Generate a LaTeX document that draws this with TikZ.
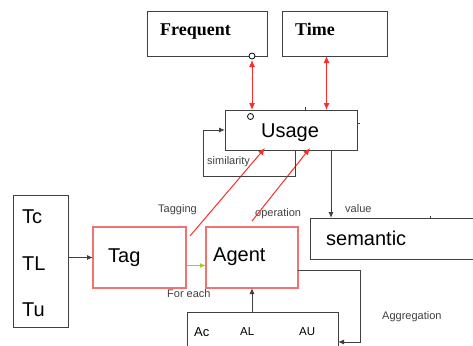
\documentclass[tikz,border=0pt]{standalone}
\usepackage{fontspec}
\setmainfont{Liberation Sans}
\newfontfamily\serifbold{Liberation Serif}
\usetikzlibrary{arrows.meta,calc}
\definecolor{boxgray}{HTML}{404040}
\definecolor{redline}{HTML}{FF2A2A}
\definecolor{pinkline}{HTML}{F07272}
\definecolor{greenline}{HTML}{9ACD32}
\begin{document}
\begin{tikzpicture}[x=1pt,y=-1pt,
  box/.style={draw=boxgray, line width=1pt, inner sep=0pt, outer sep=0pt, fill=white},
  pinkbox/.style={draw=pinkline, line width=1.1pt, inner sep=0pt, outer sep=0pt},
  big/.style={inner sep=0pt, font=\fontsize{20}{22}\selectfont, text=black},
  small/.style={inner sep=0pt, font=\fontsize{11}{12}\selectfont, text=boxgray},
  titletext/.style={inner sep=0pt, font=\serifbold\bfseries\fontsize{18}{20}\selectfont},
  gline/.style={draw=boxgray, line width=1pt, -{Latex[length=6pt,width=5pt]}},
  rline/.style={draw=redline, line width=1pt},
  rtip/.style={-{Latex[length=7pt,width=6pt]}},
  dot/.style={draw=black, fill=white, line width=0.8pt}
]
\useasboundingbox (0,0) rectangle (473,345);

% boxes
\node[box, minimum width=120pt, minimum height=44pt] (freq) at (207,34) {};
\node[box, minimum width=105pt, minimum height=44pt] (time) at (334.5,34) {};
\node[box, minimum width=132pt, minimum height=40pt] (usage) at (291,130) {};
\node[box, minimum width=170pt, minimum height=41pt] (sem) at (395,238.5) {};
\node[box, minimum width=55pt, minimum height=132pt] (tbox) at (40.5,261) {};
\node[pinkbox, minimum width=93pt, minimum height=61pt] (tag) at (139.5,257.5) {};
\node[pinkbox, minimum width=92pt, minimum height=61pt] (agent) at (252,257.5) {};
\node[box, minimum width=151pt, minimum height=48pt] (abox) at (262.5,336) {};

% texts in boxes
\node[titletext, anchor=base west] (freqT) at (160,36) {Frequent};
\node[titletext, anchor=base west] (timeT) at (295,36) {Time};
\node[big, anchor=base] (usageT) at (290,137) {Usage};
\node[big, anchor=base west] (semT) at (326,245) {semantic};
\node[big, anchor=base west] (agentT) at (213,261) {Agent};
\node[big, anchor=base west] (tagT) at (108,262) {Tag};
\node[big, anchor=base west] (tcT) at (22,223) {Tc};
\node[big, anchor=base west] (tlT) at (22,270) {TL};
\node[big, anchor=base west] (tuT) at (22,316) {Tu};
\node[inner sep=0pt, font=\fontsize{13}{14}\selectfont, anchor=base west] (acT) at (194,336) {Ac};
\node[inner sep=0pt, font=\fontsize{11.5}{13}\selectfont, anchor=base west] (alT) at (240,335) {AL};
\node[inner sep=0pt, font=\fontsize{11.5}{13}\selectfont, anchor=base west] (auT) at (299,335) {AU};

% small labels
\node[small, anchor=base west] (simL) at (207,164) {similarity};
\node[small, anchor=base west] (tagL) at (158,212) {Tagging};
\node[small, anchor=base west] (opL) at (255,216) {operation};
\node[small, anchor=base west] (valL) at (345,212) {value};
\node[small, anchor=base west] (forL) at (167,297) {For each};
\node[small, anchor=base west] (aggL) at (382,319) {Aggregation};

% helper x positions
\coordinate (xf) at (252,0);
\coordinate (xt) at (326.5,0);
\coordinate (xv) at (331,0);

% red double arrows
\draw[rline, {Latex[length=7pt,width=6pt]}-{Latex[length=7pt,width=6pt]}]
  ($(freq.south -| xf)+(0,4)$) -- (usage.north -| xf);
\draw[dot] (freq.south -| xf) circle (3pt);
\draw[dot] ($(usage.north -| xf)+(-1.5,6.5)$) circle (3pt);
\draw[rline, {Latex[length=7pt,width=6pt]}-{Latex[length=7pt,width=6pt]}]
  (time.south -| xt) -- (usage.north -| xt);

% red lines to usage
\draw[rline, rtip] ($(tag.north east)+(4,9)$) -- ($(usage.south west)+(40,-2)$);
\draw[rline, rtip] ($(agent.north)+(0,-6)$) -- ($(usage.south west)+(85,-2)$);

% similarity loop
\draw[gline] ($(usage.south west)+(70,0)$) |- (203,176) |- (usage.west);

% usage to semantic
\draw[gline] (usage.south -| xv) -- (sem.north -| xv);

% T box to Tag
\draw[gline] (tag.west -| tbox.east) -- (tag.west);

% Tag to Agent (green)
\draw[draw=greenline, line width=1.2pt, -{Latex[length=6pt,width=5pt]}]
  ($(tag.east)+(0,8)$) -- ($(agent.west)+(0,8)$);

% abox to agent
\draw[gline] (agent.south |- abox.north) -- (agent.south);

% agent to abox (aggregation)
\draw[gline] ($(agent.east)+(0,12.5)$) -| (360,342) -- (abox.east |- 360,342);

% small ticks
\draw[draw=boxgray, line width=0.8pt] ($(usage.north west)+(80,0)$) -- +(0,-3);
\draw[draw=boxgray, line width=0.8pt] ($(usage.north east)+(0,13)$) -- +(3,0);
\draw[draw=boxgray, line width=0.8pt] ($(sem.north west)+(120,0)$) -- +(0,-2);
\end{tikzpicture}
\end{document}
